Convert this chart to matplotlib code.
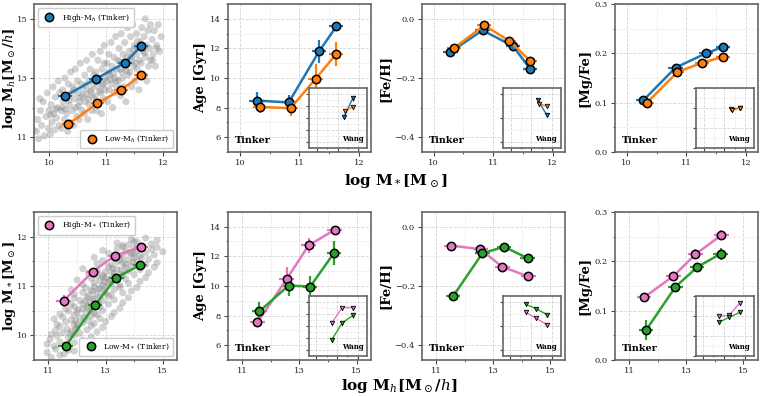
import numpy as np
import matplotlib
matplotlib.use("Agg")
import matplotlib.pyplot as plt
from matplotlib.ticker import MultipleLocator, NullFormatter
from matplotlib.lines import Line2D

plt.rcParams['font.family'] = ['DejaVu Serif']
plt.rcParams['mathtext.fontset'] = 'dejavuserif'

# colours
c_hi_h = '#1f77b4'
c_lo_h = '#ff7f0e'
c_hi_s = '#e377c2'
c_lo_s = '#2ca02c'

# background sample (log M*, log Mh)
cloud = [
    (9.55, 11.1), (9.6, 11.4), (9.65, 10.95), (9.7, 11.7), (9.72, 11.25), (9.62, 11.55), (9.68, 11.9),
    (9.78, 11.2), (9.8, 11.6), (9.82, 10.95), (9.85, 11.9), (9.87, 11.4), (9.9, 12.2), (9.92, 11.05),
    (9.95, 11.7), (9.97, 12.5), (9.99, 11.3), (10.0, 11.9), (9.84, 12.3),
    (10.02, 11.1), (10.04, 12.1), (10.05, 11.5), (10.07, 12.7), (10.08, 11.8), (10.1, 11.25), (10.11, 12.35),
    (10.13, 11.65), (10.15, 12.0), (10.16, 12.9), (10.18, 11.4), (10.19, 12.5), (10.03, 11.75), (10.12, 11.95),
    (10.21, 11.9), (10.22, 11.3), (10.24, 12.6), (10.25, 12.2), (10.27, 11.6), (10.28, 13.0), (10.3, 12.4),
    (10.31, 11.8), (10.33, 11.2), (10.34, 12.8), (10.36, 12.1), (10.37, 11.5), (10.38, 13.2), (10.39, 12.5),
    (10.23, 12.0), (10.29, 11.95), (10.35, 12.25),
    (10.41, 11.9), (10.42, 12.7), (10.43, 11.4), (10.45, 12.3), (10.46, 13.3), (10.47, 12.0), (10.49, 11.7),
    (10.5, 12.9), (10.51, 12.5), (10.53, 11.6), (10.54, 12.2), (10.55, 13.5), (10.57, 12.8), (10.58, 11.9),
    (10.59, 12.4), (10.44, 12.6), (10.52, 12.05), (10.56, 12.35),
    (10.61, 12.6), (10.62, 11.8), (10.63, 13.1), (10.64, 12.2), (10.66, 13.6), (10.67, 12.45), (10.68, 11.6),
    (10.7, 12.9), (10.71, 12.1), (10.72, 13.3), (10.74, 12.6), (10.75, 11.9), (10.76, 13.8), (10.77, 12.35),
    (10.78, 12.8), (10.79, 13.1), (10.65, 12.75), (10.69, 12.3), (10.73, 12.55),
    (10.81, 12.4), (10.82, 13.2), (10.83, 11.9), (10.84, 12.7), (10.86, 13.6), (10.87, 12.2), (10.88, 12.95),
    (10.9, 13.9), (10.91, 12.5), (10.92, 11.8), (10.93, 13.3), (10.95, 12.8), (10.96, 12.3), (10.97, 14.1),
    (10.98, 13.0), (10.99, 12.6), (10.85, 13.0), (10.89, 12.55), (10.94, 12.75), (10.97, 13.5),
    (11.01, 12.9), (11.02, 13.5), (11.03, 12.2), (11.05, 13.8), (11.06, 12.6), (11.07, 13.1), (11.09, 14.2),
    (11.1, 12.8), (11.11, 13.4), (11.12, 12.0), (11.14, 13.7), (11.15, 12.5), (11.16, 13.0), (11.17, 14.4),
    (11.19, 13.3), (11.2, 12.7), (11.04, 13.2), (11.08, 12.95), (11.13, 13.15), (11.18, 12.9),
    (11.21, 13.6), (11.22, 12.9), (11.23, 14.0), (11.25, 13.3), (11.26, 12.4), (11.27, 14.5), (11.29, 13.0),
    (11.3, 13.8), (11.31, 12.7), (11.33, 14.2), (11.34, 13.4), (11.35, 12.2), (11.37, 13.7), (11.38, 14.7),
    (11.39, 13.1), (11.24, 13.55), (11.28, 13.2), (11.32, 13.55), (11.36, 13.25),
    (11.41, 13.9), (11.42, 13.2), (11.43, 14.4), (11.45, 12.7), (11.46, 13.6), (11.47, 14.8), (11.49, 13.4),
    (11.5, 14.1), (11.51, 12.9), (11.53, 13.8), (11.54, 14.5), (11.55, 13.3), (11.57, 14.0), (11.58, 12.6),
    (11.59, 13.6), (11.44, 13.7), (11.48, 13.95), (11.52, 13.5), (11.56, 14.25),
    (11.61, 14.2), (11.62, 13.5), (11.63, 14.7), (11.65, 13.9), (11.66, 13.1), (11.67, 14.4), (11.69, 15.0),
    (11.7, 13.7), (11.71, 14.1), (11.72, 12.9), (11.74, 14.6), (11.75, 13.4), (11.77, 14.0), (11.78, 14.8),
    (11.79, 13.6), (11.64, 14.0), (11.68, 13.85),
    (11.81, 14.3), (11.83, 13.8), (11.85, 14.6), (11.87, 13.4), (11.89, 14.1), (11.92, 14.8), (11.94, 13.9),
    (11.97, 14.4), (11.82, 13.6), (11.9, 14.0),
]
cloud_ms = np.array([p[0] for p in cloud])
cloud_mh = np.array([p[1] for p in cloud])

# ---- top row: split by halo mass at fixed stellar mass (Tinker) ----
hi_h_x = [10.28, 10.82, 11.33, 11.62]
lo_h_x = [10.34, 10.85, 11.27, 11.62]
xerr_top = 0.12

hi_h_mh = [12.39, 12.97, 13.51, 14.08]
lo_h_mh = [11.44, 12.15, 12.60, 13.10]
hi_h_age = [8.48, 8.35, 11.8, 13.48]
lo_h_age = [8.05, 7.96, 9.94, 11.63]
hi_h_age_err = [0.6, 0.5, 0.8, 0.15]
lo_h_age_err = [0.4, 0.5, 1.0, 0.8]
hi_h_feh = [-0.112, -0.039, -0.092, -0.169]
lo_h_feh = [-0.099, -0.022, -0.075, -0.142]
hi_h_feh_err = [0.015, 0.01, 0.015, 0.015]
lo_h_feh_err = [0.012, 0.01, 0.012, 0.012]
hi_h_mgfe = [0.105, 0.171, 0.200, 0.213]
lo_h_mgfe = [0.100, 0.162, 0.181, 0.193]
mgfe_err_top = [0.008, 0.008, 0.008, 0.008]

# Wang (insets, top row)
w_hi_h_x = [11.32, 11.74]
w_lo_h_x = [11.37, 11.77]
w_hi_h_age = [10.2, 13.3]
w_lo_h_age = [11.25, 11.9]
w_hi_h_feh = [-0.046, -0.172]
w_lo_h_feh = [-0.08, -0.10]
w_hi_h_mgfe = [0.196, 0.200]
w_lo_h_mgfe = [0.190, 0.200]

# ---- bottom row: split by stellar mass at fixed halo mass (Tinker) ----
hi_s_x = [11.53, 12.55, 13.32, 14.23]
lo_s_x = [11.60, 12.62, 13.38, 14.20]
xerr_bot = 0.25

hi_s_ms = [10.70, 11.29, 11.61, 11.79]
lo_s_ms = [9.78, 10.61, 11.17, 11.42]
hi_s_ms_err = [0.12, 0.04, 0.04, 0.03]
lo_s_ms_err = [0.04, 0.06, 0.05, 0.04]
hi_s_age = [7.53, 10.45, 12.74, 13.78]
lo_s_age = [8.29, 10.02, 9.96, 12.2]
hi_s_age_err = [0.3, 0.8, 0.5, 0.2]
lo_s_age_err = [0.6, 0.7, 0.7, 0.8]
hi_s_feh = [-0.064, -0.076, -0.136, -0.168]
lo_s_feh = [-0.234, -0.090, -0.068, -0.106]
hi_s_feh_err = [0.01, 0.01, 0.01, 0.015]
lo_s_feh_err = [0.015, 0.012, 0.01, 0.015]
hi_s_mgfe = [0.127, 0.170, 0.214, 0.253]
lo_s_mgfe = [0.061, 0.148, 0.188, 0.215]
hi_s_mgfe_err = [0.007, 0.007, 0.01, 0.01]
lo_s_mgfe_err = [0.02, 0.008, 0.007, 0.012]

# Wang (insets, bottom row)
w_s_x = [12.5, 13.5, 14.55]
w_hi_s_age = [10.5, 13.1, 13.1]
w_lo_s_age = [7.66, 10.5, 11.8]
w_hi_s_feh = [-0.084, -0.135, -0.19]
w_lo_s_feh = [-0.016, -0.055, -0.104]
w_hi_s_mgfe = [0.198, 0.203, 0.267]
w_lo_s_mgfe = [0.168, 0.193, 0.219]


def style(ax, xmaj, ymaj, xoff=0, yoff=0, labels=True):
    ax.xaxis.set_major_locator(MultipleLocator(xmaj, offset=xoff))
    ax.xaxis.set_minor_locator(MultipleLocator(xmaj / 2, offset=xoff))
    ax.yaxis.set_major_locator(MultipleLocator(ymaj, offset=yoff))
    ax.yaxis.set_minor_locator(MultipleLocator(ymaj / 2, offset=yoff))
    ax.grid(True, which='major', ls='--', lw=0.6, color='#d4d4d4')
    ax.grid(True, which='minor', ls='--', lw=0.5, color='#e6e6e6')
    ax.set_axisbelow(True)
    ax.tick_params(which='major', length=3, width=0.8, colors='#444444', labelsize=6,
                   labelcolor='#222222', pad=2)
    ax.tick_params(which='minor', length=1.5, width=0.6, colors='#444444')
    for s in ax.spines.values():
        s.set_color('#666666')
        s.set_linewidth(1.2)
    if not labels:
        ax.xaxis.set_major_formatter(NullFormatter())
        ax.yaxis.set_major_formatter(NullFormatter())


def tinker(ax, x, y, c, xerr, yerr):
    ax.errorbar(x, y, xerr=xerr, yerr=yerr, fmt='-o', color=c, mfc=c, mec='k',
                ms=6, mew=1.1, lw=1.8, elinewidth=1.6, capsize=0, zorder=3)


def wang(ax, x, y, c, yerr):
    ax.errorbar(x, y, yerr=yerr, fmt='-v', color=c, mfc=c, mec='k',
                ms=3.2, mew=0.6, lw=1.0, elinewidth=0.9, capsize=0, zorder=3)


def inset(ax, xlim, ylim, xmaj, ymaj, xoff=0):
    ins = ax.inset_axes([0.565, 0.03, 0.41, 0.40])
    ins.set_xlim(xlim)
    ins.set_ylim(ylim)
    style(ins, xmaj, ymaj, xoff=xoff, labels=False)
    ins.tick_params(which='major', length=2)
    ins.tick_params(which='minor', length=1)
    ins.text(0.93, 0.07, 'Wang', transform=ins.transAxes, ha='right', va='bottom',
             fontsize=5, fontweight='bold')
    return ins


fig = plt.figure(figsize=(7.6, 3.96), dpi=100)
lefts = [0.045, 0.300, 0.555, 0.809]
w, h = 0.188, 0.374
top_b, bot_b = 0.616, 0.091

axes_top = [fig.add_axes([l, top_b, w, h]) for l in lefts]
axes_bot = [fig.add_axes([l, bot_b, w, h]) for l in lefts]

ylab = dict(fontsize=9.5, fontweight='bold', labelpad=2)
legkw = dict(fontsize=5.5, handletextpad=0.6, borderpad=0.5, framealpha=1, edgecolor='#cccccc')

# ---------------- top row ----------------
ax = axes_top[0]
ax.scatter(cloud_ms, cloud_mh, s=26, color='#808080', alpha=0.35, edgecolors='none', zorder=1)
tinker(ax, hi_h_x, hi_h_mh, c_hi_h, xerr_top, 0.05)
tinker(ax, lo_h_x, lo_h_mh, c_lo_h, xerr_top, 0.05)
ax.set_xlim(9.74, 12.25)
ax.set_ylim(10.5, 15.5)
style(ax, 1, 2, yoff=1)
ax.set_ylabel(r'log M$_h$[M$_\odot$/$h$]', **ylab)
ax.yaxis.set_label_coords(-0.115, 0.5)
hnd = lambda c: [Line2D([], [], marker='o', ls='', mfc=c, mec='k', ms=6, mew=1.1)]
leg1 = ax.legend(hnd(c_hi_h), [r'High-M$_h$ (Tinker)'], loc='upper left', **legkw)
ax.add_artist(leg1)
ax.legend(hnd(c_lo_h), [r'Low-M$_h$ (Tinker)'], loc='lower right', **legkw)

ax = axes_top[1]
tinker(ax, hi_h_x, hi_h_age, c_hi_h, xerr_top, hi_h_age_err)
tinker(ax, lo_h_x, lo_h_age, c_lo_h, xerr_top, lo_h_age_err)
ax.set_xlim(9.8, 12.2)
ax.set_ylim(5, 15)
style(ax, 1, 2)
ax.set_ylabel('Age [Gyr]', **ylab)
ins = inset(ax, (9.6, 12.45), (5, 15), 1, 2)
wang(ins, w_hi_h_x, w_hi_h_age, c_hi_h, 0.4)
wang(ins, w_lo_h_x, w_lo_h_age, c_lo_h, 0.3)

ax = axes_top[2]
tinker(ax, hi_h_x, hi_h_feh, c_hi_h, xerr_top, hi_h_feh_err)
tinker(ax, lo_h_x, lo_h_feh, c_lo_h, xerr_top, lo_h_feh_err)
ax.set_xlim(9.8, 12.2)
ax.set_ylim(-0.45, 0.05)
style(ax, 1, 0.2)
ax.set_ylabel('[Fe/H]', **ylab)
ins = inset(ax, (9.6, 12.45), (-0.45, 0.05), 1, 0.2)
wang(ins, w_hi_h_x, w_hi_h_feh, c_hi_h, 0.012)
wang(ins, w_lo_h_x, w_lo_h_feh, c_lo_h, 0.01)

ax = axes_top[3]
tinker(ax, hi_h_x, hi_h_mgfe, c_hi_h, xerr_top, mgfe_err_top)
tinker(ax, lo_h_x, lo_h_mgfe, c_lo_h, xerr_top, mgfe_err_top)
ax.set_xlim(9.8, 12.2)
ax.set_ylim(0, 0.3)
style(ax, 1, 0.1)
ax.set_ylabel('[Mg/Fe]', **ylab)
ins = inset(ax, (9.6, 12.45), (0, 0.3), 1, 0.1)
wang(ins, w_hi_h_x, w_hi_h_mgfe, c_hi_h, 0.008)
wang(ins, w_lo_h_x, w_lo_h_mgfe, c_lo_h, 0.008)

# ---------------- bottom row ----------------
ax = axes_bot[0]
ax.scatter(cloud_mh, cloud_ms, s=26, color='#808080', alpha=0.35, edgecolors='none', zorder=1)
tinker(ax, hi_s_x, hi_s_ms, c_hi_s, xerr_bot, hi_s_ms_err)
tinker(ax, lo_s_x, lo_s_ms, c_lo_s, xerr_bot, lo_s_ms_err)
ax.set_xlim(10.5, 15.5)
ax.set_ylim(9.5, 12.5)
style(ax, 2, 1, xoff=1)
ax.set_ylabel(r'log M$_*$[M$_\odot$]', **ylab)
ax.yaxis.set_label_coords(-0.115, 0.5)
leg2 = ax.legend(hnd(c_hi_s), [r'High-M$_*$ (Tinker)'], loc='upper left', **legkw)
ax.add_artist(leg2)
ax.legend(hnd(c_lo_s), [r'Low-M$_*$ (Tinker)'], loc='lower right', **legkw)

ax = axes_bot[1]
tinker(ax, hi_s_x, hi_s_age, c_hi_s, xerr_bot, hi_s_age_err)
tinker(ax, lo_s_x, lo_s_age, c_lo_s, xerr_bot, lo_s_age_err)
ax.set_xlim(10.5, 15.5)
ax.set_ylim(5, 15)
style(ax, 2, 2, xoff=1)
ax.set_ylabel('Age [Gyr]', **ylab)
ins = inset(ax, (10.3, 15.9), (5, 15), 2, 2, xoff=1)
wang(ins, w_s_x, w_hi_s_age, c_hi_s, 0.3)
wang(ins, w_s_x, w_lo_s_age, c_lo_s, 0.4)

ax = axes_bot[2]
tinker(ax, hi_s_x, hi_s_feh, c_hi_s, xerr_bot, hi_s_feh_err)
tinker(ax, lo_s_x, lo_s_feh, c_lo_s, xerr_bot, lo_s_feh_err)
ax.set_xlim(10.5, 15.5)
ax.set_ylim(-0.45, 0.05)
style(ax, 2, 0.2, xoff=1)
ax.set_ylabel('[Fe/H]', **ylab)
ins = inset(ax, (10.3, 15.9), (-0.45, 0.05), 2, 0.2, xoff=1)
wang(ins, w_s_x, w_hi_s_feh, c_hi_s, 0.012)
wang(ins, w_s_x, w_lo_s_feh, c_lo_s, 0.008)

ax = axes_bot[3]
tinker(ax, hi_s_x, hi_s_mgfe, c_hi_s, xerr_bot, hi_s_mgfe_err)
tinker(ax, lo_s_x, lo_s_mgfe, c_lo_s, xerr_bot, lo_s_mgfe_err)
ax.set_xlim(10.5, 15.5)
ax.set_ylim(0, 0.3)
style(ax, 2, 0.1, xoff=1)
ax.set_ylabel('[Mg/Fe]', **ylab)
ins = inset(ax, (10.3, 15.9), (0, 0.3), 2, 0.1, xoff=1)
wang(ins, w_s_x, w_hi_s_mgfe, c_hi_s, 0.01)
wang(ins, w_s_x, w_lo_s_mgfe, c_lo_s, 0.008)

for ax in axes_top[1:] + axes_bot[1:]:
    ax.text(0.05, 0.05, 'Tinker', transform=ax.transAxes, ha='left', va='bottom',
            fontsize=7, fontweight='bold')

fig.text(0.521, 0.543, r'log M$_*$[M$_\odot$]', ha='center', va='center',
         fontsize=11, fontweight='bold')
fig.text(0.525, 0.025, r'log M$_h$[M$_\odot$/$h$]', ha='center', va='center',
         fontsize=11, fontweight='bold')

fig.savefig('out.png', dpi=100)
